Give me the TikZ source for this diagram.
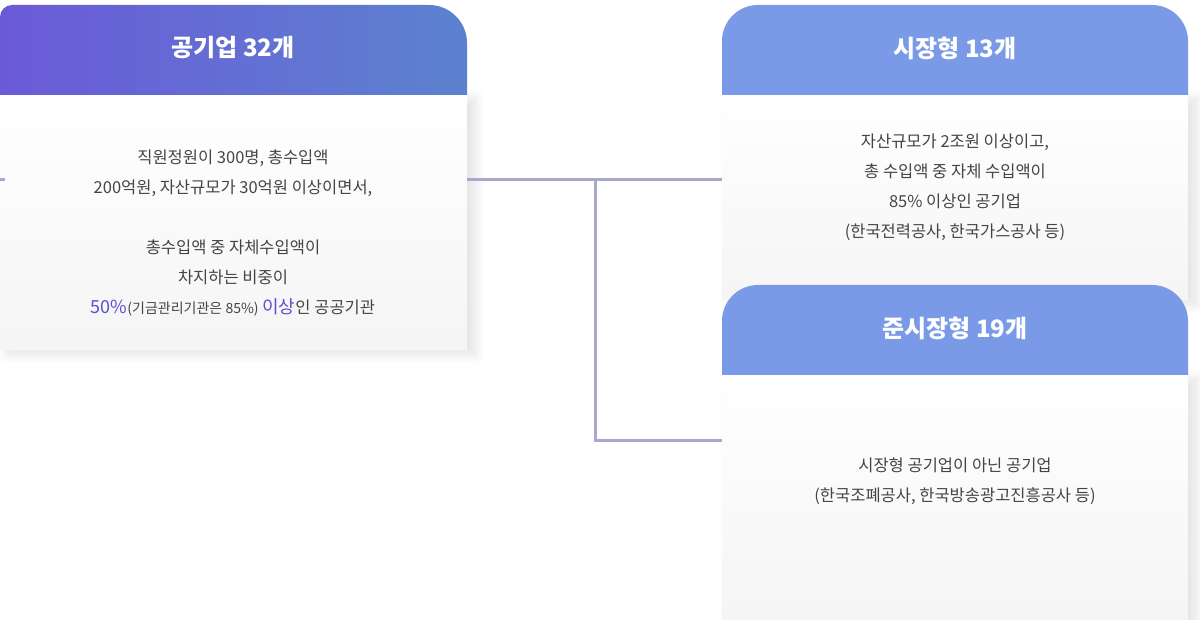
\documentclass[tikz,border=0pt]{standalone}
\usepackage{fontspec}
\setmainfont{Noto Sans CJK KR}
\usetikzlibrary{shadows.blur}
\definecolor{lineC}{HTML}{A8A8CE}
\definecolor{hdrL}{HTML}{6B5AD8}
\definecolor{hdrR}{HTML}{5C82CF}
\definecolor{hdrB}{HTML}{7A9AE8}
\definecolor{txt}{HTML}{444444}
\definecolor{acc}{HTML}{5A4FD0}
\tikzset{
 body/.style={fill=white, top color=white, bottom color=black!4, draw=none},
 shd/.style={blur shadow={shadow xshift=8pt,shadow yshift=-4pt,shadow blur steps=14,shadow blur radius=10pt,shadow opacity=12}},
 hdr/.style={text=white, font=\fontsize{24}{28}\selectfont\bfseries},
 btxt/.style={text=txt, align=center, font=\fontsize{16.5}{30}\selectfont},
 conn/.style={draw=lineC, line width=3pt}
}
\begin{document}
\begin{tikzpicture}[x=1pt,y=-1pt]
\useasboundingbox (0,0) rectangle (1200,620);
% bodies
\fill[body, shd] (0,95) rectangle (467,350);
\fill[body, shd] (722,95) rectangle (1188,300);
\fill[body, shd] (722,375) rectangle (1188,620);
% connectors
\coordinate (L) at (467,180);
\coordinate (J) at (595,180);
\coordinate (J2) at (595,440);
\coordinate (R1) at (722,180);
\coordinate (R2) at (722,440);
\coordinate (L0) at (0,180);
\draw[conn] (L) -- (R1);
\draw[conn] (J) -- (J2) -- (R2);
\draw[conn] (L0) -- (5,180);
% headers
\path[left color=hdrL, right color=hdrR] (0,95) -- (0,18) [rounded corners=12pt] -- (0,5) [rounded corners=38pt]-- (467,5) [sharp corners]-- (467,95) -- cycle;
\path[fill=hdrB] (722,95) -- (722,40) [rounded corners=36pt] -- (722,5) -- (1188,5) [sharp corners] -- (1188,95) -- cycle;
\path[fill=hdrB] (722,375) -- (722,320) [rounded corners=36pt] -- (722,285) -- (1188,285) [sharp corners] -- (1188,375) -- cycle;
\node[hdr] (h1) at (233,48) {공기업 32개};
\node[hdr] (h2) at (955,48) {시장형 13개};
\node[hdr] (h3) at (955,328) {준시장형 19개};
% texts
\node[btxt] (t1) at (233,233) {직원정원이 300명, 총수입액\\200억원,  자산규모가 30억원 이상이면서,\\[30pt]
총수입액 중 자체수입액이\\차지하는 비중이\\{\color{acc}\fontsize{18}{30}\selectfont 50\%}{\fontsize{14}{30}\selectfont(기금관리기관은 85\%)} {\color{acc}\fontsize{18}{30}\selectfont 이상}인 공공기관};
\node[btxt] (t2) at (955,187) {자산규모가 2조원 이상이고,\\총 수입액 중 자체 수입액이\\85\% 이상인 공기업\\(한국전력공사, 한국가스공사 등)};
\node[btxt] (t3) at (955,481) {시장형 공기업이 아닌 공기업\\(한국조폐공사, 한국방송광고진흥공사 등)};
\end{tikzpicture}
\end{document}
